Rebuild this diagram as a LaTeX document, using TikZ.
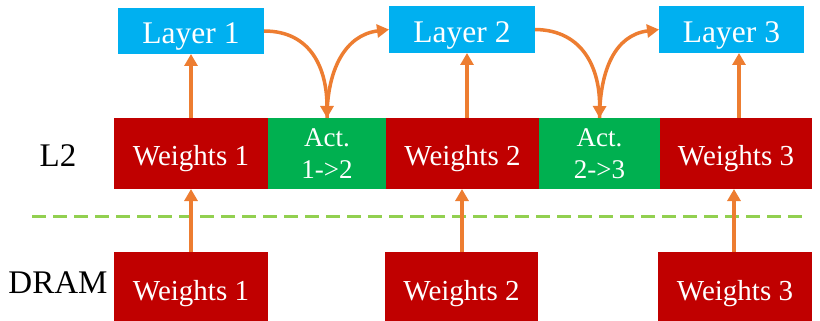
\documentclass[tikz,border=0pt]{standalone}
\usepackage{fontspec}
\setmainfont{Liberation Serif}
\usetikzlibrary{arrows.meta}
\definecolor{layerblue}{HTML}{00B0F0}
\definecolor{wred}{HTML}{C00000}
\definecolor{actgreen}{HTML}{00B050}
\definecolor{flow}{HTML}{ED7D31}
\definecolor{sep}{HTML}{92D050}
\begin{document}
\begin{tikzpicture}[x=1pt,y=-1pt,
  box/.style={inner sep=0pt, outer sep=0pt, text=white, align=center},
  layerbox/.style={box, fill=layerblue, minimum width=146pt, minimum height=46pt,
    text height=26pt, text depth=0pt, font=\fontsize{31.5}{34}\selectfont},
  wbox/.style={box, fill=wred, minimum height=71pt,
    text height=23pt, text depth=0pt, font=\fontsize{29}{33}\selectfont},
  drambox/.style={wbox, minimum height=70pt, text height=26pt},
  actbox/.style={box, fill=actgreen, minimum height=71pt,
    font=\fontsize{27}{32}\selectfont},
  tier/.style={text=black, inner sep=0pt, font=\fontsize{33}{36}\selectfont},
  link/.style={flow, line width=3.5pt, -{Triangle[width=13pt,length=12pt]}}]
\useasboundingbox (0,0) rectangle (820,321);

% memory tier labels
\node[tier] (l2lbl) at (58,156) {L2};
\node[tier] (dramlbl) at (58,283) {DRAM};

% layers
\node[layerbox] (lay1) at (191,31) {Layer 1};
\node[layerbox, minimum height=47pt] (lay2) at (462,29.5) {Layer 2};
\node[layerbox, minimum height=47pt, minimum width=145pt] (lay3) at (731.5,29.5) {Layer 3};

% L2 contents
\node[wbox, minimum width=154pt] (w1) at (191,153.5) {Weights 1};
\node[actbox, minimum width=118pt] (a1) at (327,153.5) {Act.\\1->2};
\node[wbox, minimum width=153pt] (w2) at (462.5,153.5) {Weights 2};
\node[actbox, minimum width=121pt] (a2) at (599.5,153.5) {Act.\\2->3};
\node[wbox, minimum width=152pt] (w3) at (736,153.5) {Weights 3};

% DRAM contents
\node[drambox, minimum width=154pt] (d1) at (191,287) {Weights 1};
\node[drambox, minimum width=153pt] (d2) at (461.5,287) {Weights 2};
\node[drambox, minimum width=154pt] (d3) at (735,287) {Weights 3};

% boundary between DRAM and L2
\coordinate (sepL) at (32,216);
\coordinate (sepR) at (808,216);
\draw[sep, line width=3pt, dash pattern=on 14pt off 7pt] (sepL) -- (sepR);

% DRAM -> L2
\draw[link] (d1.north -| 191,0) -- (w1.south -| 191,0);
\draw[link] (d2.north -| 462,0) -- (w2.south -| 462,0);
\draw[link] (d3.north -| 734,0) -- (w3.south -| 734,0);

% weights -> layers
\draw[link] (w1.north -| 191,0) -- (lay1.south -| 191,0);
\draw[link] (w2.north -| 467,0) -- (lay2.south -| 467,0);
\draw[link] (w3.north -| 739,0) -- (lay3.south -| 739,0);

% activations between layers
\draw[link] (lay1.east) .. controls (312,31) and (327,70) .. (a1.north);
\draw[link] (a1.north) .. controls (327,70) and (345,35) .. (lay2.west);
\draw[link] (lay2.east) .. controls (584,30) and (600,70) .. (a2.north);
\draw[link] (a2.north) .. controls (600,70) and (615,35) .. (lay3.west);
\end{tikzpicture}
\end{document}
